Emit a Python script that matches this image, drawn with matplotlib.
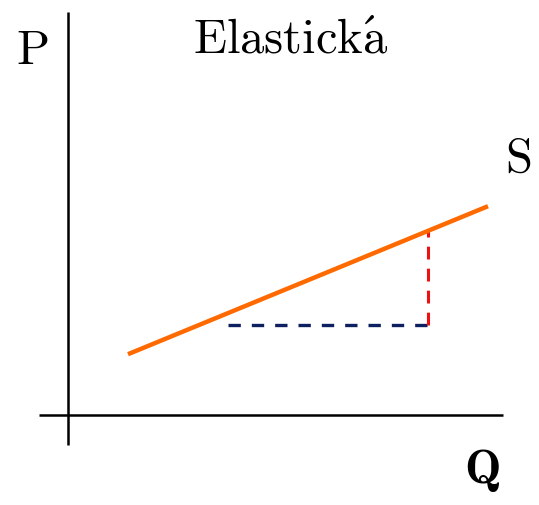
import matplotlib.pyplot as plt

plt.rcParams['mathtext.fontset'] = 'cm'

# nabídková křivka S (množství Q, cena P)
supply_q = [1.5, 10.5]
supply_p = [1.52, 5.22]

# trojúhelník pod křivkou: změna množství a změna ceny
delta_q = [4.0, 9.0]
delta_p_base = 2.25

# osy P a Q
axis_q = [-0.72, 10.88]
axis_p = [-0.75, 10.08]


def price_at(q):
    k = (supply_p[1] - supply_p[0]) / (supply_q[1] - supply_q[0])
    return supply_p[0] + k * (q - supply_q[0])


fig = plt.figure(figsize=(5.39, 5.05), dpi=100)
ax = fig.add_axes([0, 0, 1, 1])
ax.set_xlim(-1.7, 11.775)
ax.set_ylim(-2.25, 10.375)
ax.axis('off')

ax.plot(axis_q, [0, 0], color='black', lw=1.8, solid_capstyle='butt')
ax.plot([0, 0], axis_p, color='black', lw=1.8, solid_capstyle='butt')

ax.plot(delta_q, [delta_p_base, delta_p_base], color='#0d2060', lw=2.4,
        dashes=(3.7, 3.3))
ax.plot([delta_q[1], delta_q[1]], [delta_p_base, price_at(delta_q[1])],
        color='#ee1111', lw=2.2, dashes=(4.2, 3.0))

ax.plot(supply_q, supply_p, color='#ff6a00', lw=3.2, solid_capstyle='butt')

ax.text(-0.9, 9.125, r'$\mathrm{P}$', fontsize=35, ha='center', va='center')
# \! posune čárku nad písmeno a
ax.text(5.56, 9.05, r'$\mathrm{Elastick\acute{a\!\!}}$', fontsize=35,
        ha='center', va='baseline')
ax.text(11.25, 6.425, r'$\mathrm{S}$', fontsize=35, ha='center', va='center')
ax.text(10.35, -1.375, r'$\mathbf{Q}$', fontsize=35, ha='center', va='center')

fig.savefig('out.png', dpi=100)
